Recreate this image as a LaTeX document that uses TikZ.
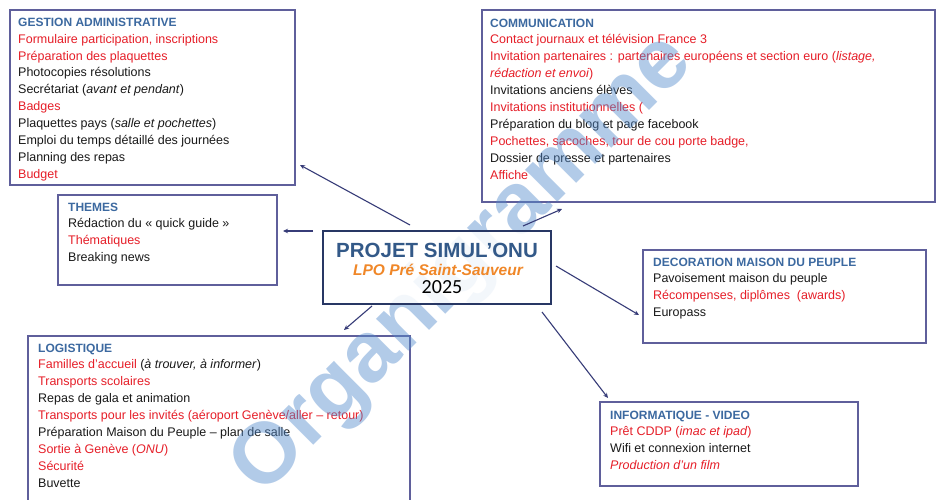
\documentclass[tikz,border=0pt]{standalone}
\usepackage{fontspec}
\setmainfont{Liberation Sans}
\newfontfamily\calfont{Carlito}
\usetikzlibrary{arrows.meta,calc}
\definecolor{boxc}{RGB}{95,95,155}
\definecolor{cboxc}{RGB}{40,55,100}
\definecolor{ttlc}{RGB}{60,105,160}
\definecolor{redc}{RGB}{230,30,40}
\definecolor{txtc}{RGB}{25,25,25}
\definecolor{arrc}{RGB}{55,60,120}
\definecolor{orgc}{RGB}{240,135,40}
\definecolor{wmc}{RGB}{85,140,205}
\newcommand{\ttl}[1]{{\fontsize{12}{16.9}\selectfont\bfseries\color{ttlc}#1}}
\newcommand{\rd}[1]{{\color{redc}#1}}
\begin{document}
\begin{tikzpicture}[x=1pt,y=1pt,
 box/.style={draw=boxc,line width=1.6pt,fill=white,anchor=north west,inner sep=0pt,outer sep=0pt},
 lst/.style={anchor=north west,align=left,inner sep=0pt,text=txtc,font=\fontsize{12.5}{16.9}\selectfont},
 conn/.style={draw=arrc,line width=1.1pt,-{Stealth[length=5pt,width=4.5pt]}}]
\fill[white] (0,0) rectangle (937,-500);
\useasboundingbox (0,0) rectangle (937,-500);
% boxes
\node[box,minimum width=285pt,minimum height=175pt] (gest) at (10,-10) {};
\node[box,minimum width=453pt,minimum height=192pt] (comm) at (482,-10) {};
\node[box,minimum width=219pt,minimum height=90pt] (themes) at (58,-195) {};
\node[box,minimum width=283pt,minimum height=93pt] (deco) at (643,-250) {};
\node[box,minimum width=382pt,minimum height=175pt] (logi) at (28,-336) {};
\node[box,minimum width=258pt,minimum height=84pt] (info) at (600,-402) {};
% texts
\node[lst] (gestT) at (18,-17.7) {\ttl{GESTION ADMINISTRATIVE}\\
\rd{Formulaire participation, inscriptions}\\
\rd{Préparation des plaquettes}\\
Photocopies résolutions\\
Secrétariat (\textit{avant et pendant})\\
\rd{Badges}\\
Plaquettes pays (\textit{salle et pochettes})\\
Emploi du temps détaillé des journées\\
Planning des repas\\
\rd{Budget}};
\node[lst] (commT) at (490,-18.5) {\ttl{COMMUNICATION}\\
\rd{Contact journaux et télévision France 3}\\
\rd{Invitation partenaires : partenaires européens et section euro (\textit{listage,}}\\
\rd{\textit{rédaction et envoi})}\\
Invitations anciens élèves\\
\rd{Invitations institutionnelles (}\\
Préparation du blog et page facebook\\
\rd{Pochettes, sacoches, tour de cou porte badge,}\\
Dossier de presse et partenaires\\
\rd{Affiche}};
\node[lst] (themesT) at (68,-202.5) {\ttl{THEMES}\\
Rédaction du « quick guide »\\
\rd{Thématiques}\\
Breaking news};
\node[lst] (decoT) at (653,-257.5) {\ttl{DECORATION MAISON DU PEUPLE}\\
Pavoisement maison du peuple\\
\rd{Récompenses, diplômes~~(awards)}\\
Europass};
\node[lst] (logiT) at (38,-343.5) {\ttl{LOGISTIQUE}\\
\rd{Familles d'accueil} (\textit{à trouver, à informer})\\
\rd{Transports scolaires}\\
Repas de gala et animation\\
\rd{Transports pour les invités (aéroport Genève/aller – retour)}\\
Préparation Maison du Peuple – plan de salle\\
\rd{Sortie à Genève (\textit{ONU})}\\
\rd{Sécurité}\\
Buvette};
\node[lst] (infoT) at (610,-410.5) {\ttl{INFORMATIQUE - VIDEO}\\
\rd{Prêt CDDP (\textit{imac et ipad})}\\
Wifi et connexion internet\\
\rd{\textit{Production d'un film}}};
% watermark
\node[rotate=45,anchor=mid,inner sep=0pt,text=wmc,opacity=0.45,font=\fontsize{86}{86}\selectfont\bfseries] (wm) at (477,-279) {Organigramme};
% centre
\node[box,draw=cboxc,line width=2.2pt,fill opacity=0.85,minimum width=228pt,minimum height=73pt] (cbox) at (323,-231) {};
\node[anchor=base,inner sep=0pt,text=ttlc!85!black,font=\fontsize{20.5}{20.5}\selectfont\bfseries] (ctitle) at (437,-257) {PROJET SIMUL'ONU};
\node[anchor=base,inner sep=0pt,text=orgc,font=\fontsize{15.5}{15.5}\selectfont\bfseries\itshape] (csub) at (438,-275) {LPO Pré Saint-Sauveur};
\node[anchor=base,inner sep=0pt,text=black,font=\calfont\fontsize{20}{20}\selectfont] (cyear) at (442,-293.5) {2025};
% connectors
\coordinate (g1) at ($(cbox.north west)+(87,6)$);
\coordinate (g2) at ($(gest.north east)+(5,-155)$);
\coordinate (t1) at ($(cbox.north west)+(-10,0)$);
\coordinate (t2) at ($(themes.north east)+(6,-36)$);
\coordinate (c1) at ($(cbox.north east)+(-28,5)$);
\coordinate (c2) at ($(comm.south west)+(80,-7)$);
\coordinate (d1) at ($(cbox.north east)+(5,-35)$);
\coordinate (d2) at ($(deco.north west)+(-4,-65)$);
\coordinate (l1) at ($(cbox.south west)+(49,-2)$);
\coordinate (l2) at ($(logi.north west)+(316,6)$);
\coordinate (i1) at ($(cbox.south east)+(-9,-8)$);
\coordinate (i2) at ($(info.north west)+(8,4)$);
\draw[conn] (g1) -- (g2);
\draw[conn] (t1) -- (t2);
\draw[conn] (c1) -- (c2);
\draw[conn] (d1) -- (d2);
\draw[conn] (l1) -- (l2);
\draw[conn] (i1) -- (i2);
\end{tikzpicture}
\end{document}
